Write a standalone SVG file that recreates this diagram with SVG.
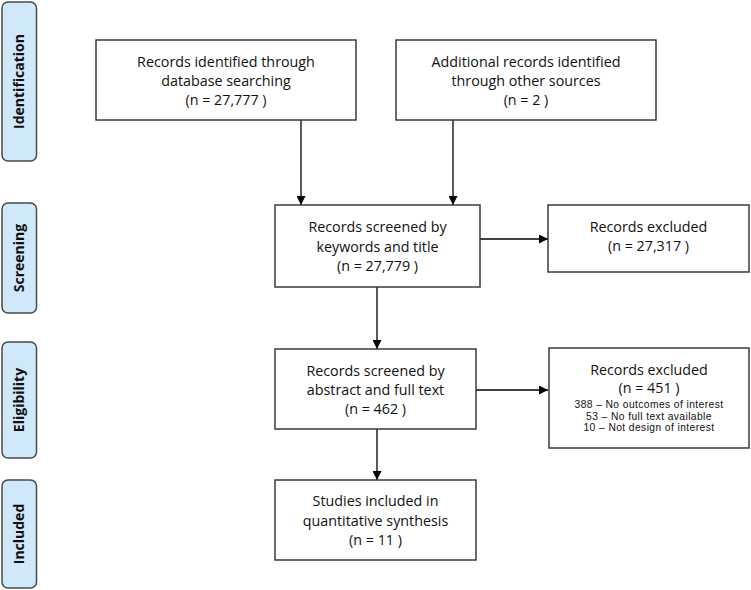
<svg xmlns="http://www.w3.org/2000/svg" width="751" height="590" viewBox="0 0 751 590">
<defs>
<marker id="arr" viewBox="0 0 10 10" refX="10" refY="5" markerWidth="9" markerHeight="9" markerUnits="userSpaceOnUse" orient="auto">
<path d="M0,0 L10,5 L0,10 Z" fill="#000"/>
</marker>
</defs>
<style>
.box{fill:#fff;stroke:#3a3a3a;stroke-width:1.5}
.lab{fill:#cfe9fb;stroke:#4a4a4a;stroke-width:1.5}
.t{font-family:"Open Sans","Noto Sans",sans-serif;font-size:14.3px;fill:#111;text-anchor:middle}
.s{font-family:"Liberation Sans",Arial,sans-serif;font-size:10.3px;letter-spacing:0.4px;fill:#111;text-anchor:middle}
.lt{font-family:"Open Sans","Noto Sans",sans-serif;font-size:14px;font-weight:bold;fill:#111;text-anchor:middle}
.c{stroke:#000;stroke-width:1.3;fill:none;marker-end:url(#arr)}
</style>
<rect width="751" height="590" fill="#fff"/>
<g id="label-identification">
<rect class="lab" x="2" y="2" width="34.5" height="159" rx="6"/>
<text class="lt" transform="translate(24,81.5) rotate(-90)">Identification</text>
</g>
<g id="label-screening">
<rect class="lab" x="2" y="203" width="34.5" height="110" rx="6"/>
<text class="lt" transform="translate(24,258) rotate(-90)">Screening</text>
</g>
<g id="label-eligibility">
<rect class="lab" x="2" y="342" width="34.5" height="116" rx="6"/>
<text class="lt" transform="translate(24,400) rotate(-90)">Eligibility</text>
</g>
<g id="label-included">
<rect class="lab" x="2" y="480" width="34.5" height="108" rx="6"/>
<text class="lt" transform="translate(24,534) rotate(-90)">Included</text>
</g>
<g id="connectors">
<line class="c" x1="301" y1="120" x2="301" y2="205"/>
<line class="c" x1="453" y1="120" x2="453" y2="205"/>
<line class="c" x1="480" y1="239" x2="548" y2="239"/>
<line class="c" x1="377" y1="287" x2="377" y2="349"/>
<line class="c" x1="476" y1="390" x2="548" y2="390"/>
<line class="c" x1="377" y1="429" x2="377" y2="480"/>
</g>
<g id="n1">
<rect class="box" x="96" y="40" width="260" height="80"/>
<text class="t" x="226" y="67">Records identified through</text>
<text class="t" x="226" y="86">database searching</text>
<text class="t" x="226" y="105">(n = 27,777 )</text>
</g>
<g id="n2">
<rect class="box" x="396" y="40" width="260" height="80"/>
<text class="t" x="526" y="67">Additional records identified</text>
<text class="t" x="526" y="86">through other sources</text>
<text class="t" x="526" y="105">(n = 2 )</text>
</g>
<g id="n3">
<rect class="box" x="275" y="205" width="205" height="82"/>
<text class="t" x="377.5" y="232">Records screened by</text>
<text class="t" x="377.5" y="252">keywords and title</text>
<text class="t" x="377.5" y="271">(n = 27,779 )</text>
</g>
<g id="n4">
<rect class="box" x="548" y="205" width="201" height="67"/>
<text class="t" x="648.5" y="232">Records excluded</text>
<text class="t" x="648.5" y="251">(n = 27,317 )</text>
</g>
<g id="n5">
<rect class="box" x="275" y="349" width="201" height="80"/>
<text class="t" x="375.5" y="376">Records screened by</text>
<text class="t" x="375.5" y="395">abstract and full text</text>
<text class="t" x="375.5" y="414">(n = 462 )</text>
</g>
<g id="n6">
<rect class="box" x="549" y="348" width="200" height="100"/>
<text class="t" x="649" y="375">Records excluded</text>
<text class="t" x="649" y="393">(n = 451 )</text>
<text class="s" x="649" y="408">388 – No outcomes of interest</text>
<text class="s" x="649" y="419.7">53 – No full text available</text>
<text class="s" x="649" y="431.4">10 – Not design of interest</text>
</g>
<g id="n7">
<rect class="box" x="275" y="480" width="201" height="80"/>
<text class="t" x="375.5" y="506">Studies included in</text>
<text class="t" x="375.5" y="526">quantitative synthesis</text>
<text class="t" x="375.5" y="545">(n = 11 )</text>
</g>
</svg>
